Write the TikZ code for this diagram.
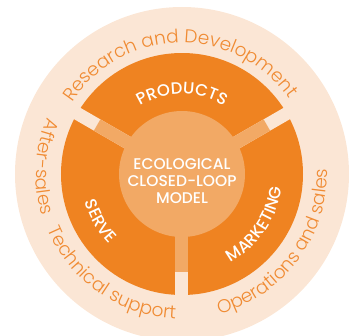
\documentclass[tikz,border=0pt]{standalone}
\usepackage{fontspec}
\setmainfont{Poppins}
\newfontfamily\lightf{Poppins Light}
\newfontfamily\medf{Poppins Medium}
\usetikzlibrary{decorations.text}
\definecolor{ringorange}{HTML}{EF8321}
\definecolor{hubcolor}{HTML}{F2A965}
\definecolor{palecolor}{HTML}{FBE6D5}
\definecolor{txtorange}{HTML}{F08B33}
\begin{document}
\begin{tikzpicture}[x=1pt,y=1pt]
\useasboundingbox (-182,-161) rectangle (169,174);
% rings
\fill[palecolor] (0,0) circle[radius=167];
\fill[ringorange] (0,0) circle[radius=121];
\foreach \a in {30,150,270} {
  \fill[palecolor, rotate=\a] (0,-6.5) rectangle (124,6.5);
  \fill[hubcolor, rotate=\a] (0,-6.5) rectangle (98,6.5);
}
\fill[hubcolor] (0,0) circle[radius=63];
\node[align=center, text=white, inner sep=0pt,
  font=\medf\fontsize{15.5}{17}\selectfont] (core) at (0,-7)
  {ECOLOGICAL\\CLOSED-LOOP\\MODEL};
% segment labels
\path[decorate, decoration={text along path, text align=center,
  text={|\medf\fontsize{16.5}{16.5}\selectfont\color{white}|PRODUCTS}}]
  (140:80) arc[start angle=140, end angle=40, radius=80];
\path[decorate, decoration={text along path, text align=center,
  text={|\medf\fontsize{16.5}{16.5}\selectfont\color{white}|SERVE}}]
  (170:101) arc[start angle=170, end angle=250, radius=101];
\path[decorate, decoration={text along path, text align=center,
  text={|\medf\fontsize{16.5}{16.5}\selectfont\color{white}|MARKETING}}]
  (280:101) arc[start angle=280, end angle=371, radius=101];
% outer labels
\path[decorate, decoration={text along path, text align=center,
  text={|\lightf\fontsize{18.5}{18.5}\selectfont\color{txtorange}|Research and Development}}]
  (170:131) arc[start angle=170, end angle=12, radius=131];
\path[decorate, decoration={text along path, text align=center,
  text={|\lightf\fontsize{18.5}{18.5}\selectfont\color{txtorange}|After-sales}}]
  (147:146) arc[start angle=147, end angle=207, radius=146];
\path[decorate, decoration={text along path, text align=center,
  text={|\lightf\fontsize{18.5}{18.5}\selectfont\color{txtorange}|Technical support}}]
  (195:145) arc[start angle=195, end angle=275, radius=145];
\path[decorate, decoration={text along path, text align=center,
  text={|\lightf\fontsize{18.5}{18.5}\selectfont\color{txtorange}|Operations and sales}}]
  (275:145) arc[start angle=275, end angle=372, radius=145];
\end{tikzpicture}
\end{document}
